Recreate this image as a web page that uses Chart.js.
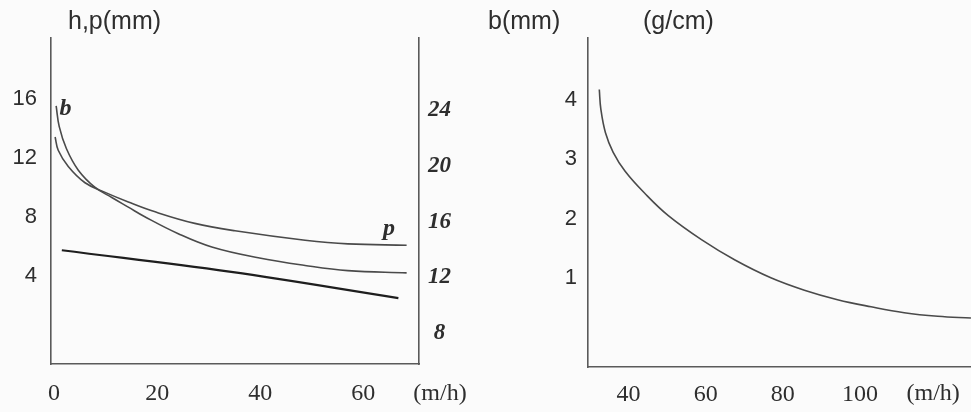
<!DOCTYPE html>
<html>
<head>
<meta charset="utf-8">
<script src="https://cdn.jsdelivr.net/npm/chart.js@4.4.1/dist/chart.umd.min.js"></script>
<style>
  html, body { margin: 0; padding: 0; background: #fbfbfb; }
  #wrap { position: relative; width: 971px; height: 412px; }
  #wrap canvas { position: absolute; left: 0; top: 0; }
</style>
</head>
<body>
<div id="wrap">
  <canvas id="leftChart" width="971" height="412"></canvas>
  <canvas id="rightChart" width="971" height="412"></canvas>
</div>
<script>
// left panel, speed in m/h
const speedB  = [0.4, 1.0, 2.4, 4.7, 7.9, 11.2, 14.4, 17.6, 24.1, 30.6, 39.6, 48.7, 57, 68.4];
const valuesB = [15.5, 14.1, 12.6, 11.15, 10.0, 9.3, 8.65, 8.0, 6.85, 5.95, 5.22, 4.7, 4.35, 4.2];
const speedP  = [0.2, 0.8, 2.75, 6.0, 9.9, 14.4, 19.6, 27.3, 35.1, 48.7, 57, 68.4];
const valuesP = [13.4, 12.5, 11.4, 10.3, 9.65, 9.0, 8.33, 7.55, 7.05, 6.41, 6.16, 6.07];
const speedH  = [1.5, 34, 66.8];
const valuesH = [5.73, 4.28, 2.49];
const leftXTicks  = [0, 20, 40, 60];
const leftYTicks  = [4, 8, 12, 16];
const rightYTicks = [8, 12, 16, 20, 24];

// right panel
const speedR  = [32.4, 32.8, 34.0, 36.0, 39.1, 44.3, 50.3, 59.0, 67.6, 76.9, 85.6, 94.2, 102.9, 111.5, 120.2, 128.8];
const valuesR = [4.18, 3.85, 3.45, 3.12, 2.8, 2.42, 2.05, 1.64, 1.3, 1.0, 0.79, 0.63, 0.51, 0.41, 0.35, 0.32];
const panel2XTicks = [40, 60, 80, 100];
const panel2YTicks = [1, 2, 3, 4];

const SANS  = '"Liberation Sans", Arial, sans-serif';
const SERIF = '"Liberation Serif", "Times New Roman", serif';
const INK = '#2e2e2e';
const AXIS = '#5a5a5a';

function pts(xs, ys) {
  return xs.map((x, i) => ({ x: x, y: ys[i] }));
}

function axis(tickList, extra) {
  return Object.assign({
    type: 'linear',
    grid: { display: false, drawTicks: false },
    border: { display: true, color: AXIS, width: 1.6 },
    afterBuildTicks: s => { s.ticks = tickList.map(v => ({ value: v })); }
  }, extra);
}

function curve(data, color, width, tension) {
  return {
    data: data,
    borderColor: color,
    borderWidth: width,
    pointRadius: 0,
    fill: false,
    tension: tension
  };
}

const notesLeft = {
  id: 'notesLeft',
  afterDraw(chart) {
    const { ctx, chartArea, scales } = chart;
    ctx.save();
    ctx.fillStyle = INK;
    ctx.textBaseline = 'middle';
    ctx.font = '25px ' + SANS;
    ctx.fillText('h,p(mm)', chartArea.left + 17, 22);
    ctx.font = '24px ' + SERIF;
    ctx.textAlign = 'center';
    ctx.fillText('(m/h)', chartArea.right + 21, 394);
    ctx.textBaseline = 'alphabetic';
    ctx.font = 'bold italic 24px ' + SERIF;
    ctx.fillText('b', scales.x.getPixelForValue(2.2), scales.y.getPixelForValue(14.88));
    ctx.fillText('p', scales.x.getPixelForValue(65), scales.y.getPixelForValue(6.75));
    ctx.restore();
  }
};

const notesRight = {
  id: 'notesRight',
  afterDraw(chart) {
    const { ctx, chartArea, scales } = chart;
    ctx.save();
    ctx.fillStyle = INK;
    ctx.textBaseline = 'middle';
    ctx.font = '25px ' + SANS;
    ctx.fillText('b(mm)', chartArea.left - 100, 22);
    ctx.fillText('(g/cm)', chartArea.left + 55, 22);
    ctx.font = '24px ' + SERIF;
    ctx.textAlign = 'center';
    ctx.fillText('(m/h)', scales.x.getPixelForValue(119), 394);
    ctx.restore();
  }
};

new Chart(document.getElementById('leftChart'), {
  type: 'line',
  data: {
    datasets: [
      curve(pts(speedB, valuesB), '#4a4a4a', 1.6, 0.4),
      curve(pts(speedP, valuesP), '#4a4a4a', 1.6, 0.4),
      curve(pts(speedH, valuesH), '#1e1e1e', 2.2, 0.4)
    ]
  },
  options: {
    responsive: false,
    devicePixelRatio: 1,
    animation: false,
    layout: { padding: { top: 38, left: 0, right: 492, bottom: 0 } },
    plugins: { legend: { display: false }, tooltip: { enabled: false } },
    scales: {
      x: axis(leftXTicks, {
        position: 'bottom', min: -0.6, max: 70.8,
        afterFit: s => { s.height = 48; },
        ticks: { color: INK, padding: 15, font: { family: SERIF, size: 24 } }
      }),
      y: axis(leftYTicks, {
        position: 'left', min: -1.97, max: 20.1,
        afterFit: s => { s.width = 51; },
        ticks: { color: INK, padding: 14, font: { family: SANS, size: 22 } }
      }),
      y2: axis(rightYTicks, {
        position: 'right', min: 5.77, max: 29.19,
        afterFit: s => { s.width = 60; },
        ticks: { color: INK, padding: 9, crossAlign: 'center',
                 font: { family: SERIF, size: 23, style: 'italic', weight: 'bold' } }
      })
    }
  },
  plugins: [notesLeft]
});

new Chart(document.getElementById('rightChart'), {
  type: 'line',
  data: {
    datasets: [
      curve(pts(speedR, valuesR), '#4a4a4a', 1.6, 0.4)
    ]
  },
  options: {
    responsive: false,
    devicePixelRatio: 1,
    animation: false,
    layout: { padding: { top: 38, left: 0, right: 0, bottom: 0 } },
    plugins: { legend: { display: false }, tooltip: { enabled: false } },
    scales: {
      x: axis(panel2XTicks, {
        position: 'bottom', min: 29.47, max: 128.82,
        afterFit: s => { s.height = 45; },
        ticks: { color: INK, padding: 13, font: { family: SERIF, size: 24 } }
      }),
      y: axis(panel2YTicks, {
        position: 'left', min: -0.507, max: 5.05,
        afterFit: s => { s.width = 588; },
        ticks: { color: INK, padding: 11, font: { family: SANS, size: 22 } }
      })
    }
  },
  plugins: [notesRight]
});
</script>
</body>
</html>
